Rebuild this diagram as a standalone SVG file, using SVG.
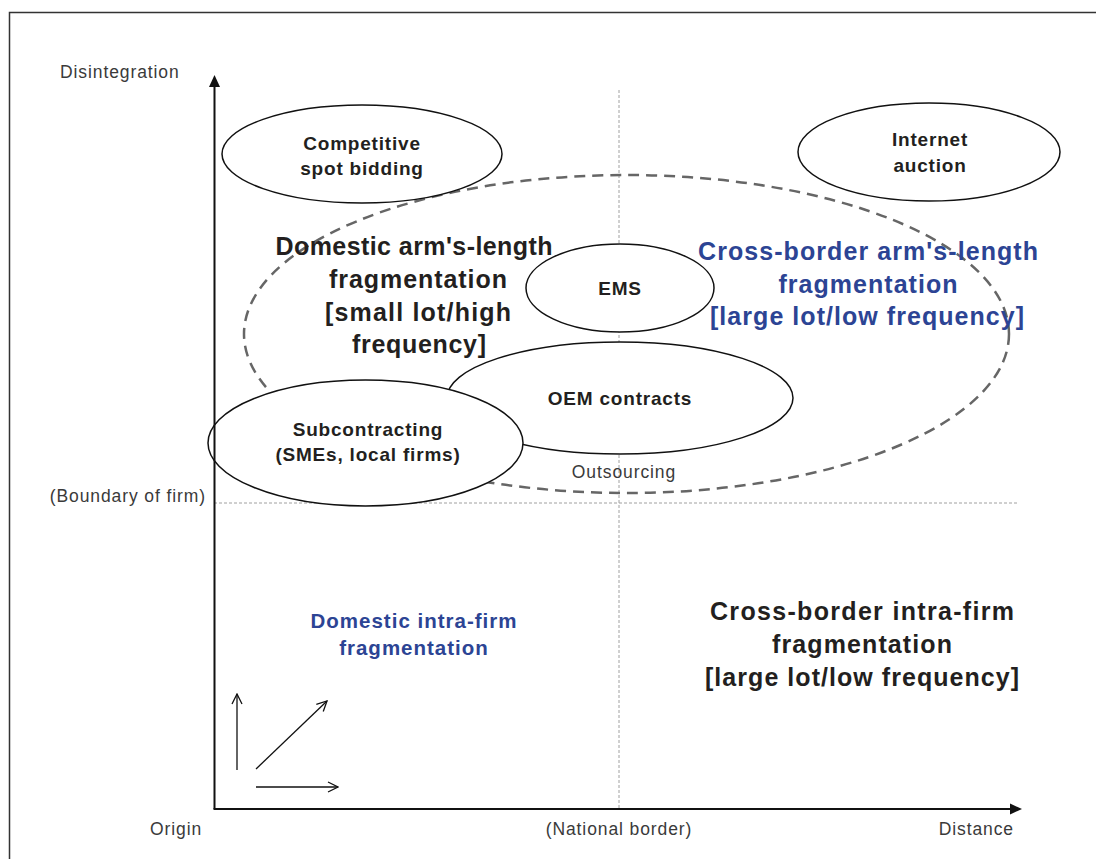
<svg xmlns="http://www.w3.org/2000/svg" width="1096" height="859" viewBox="0 0 1096 859">
<defs>
<style>
.ax{font-family:"Liberation Sans",Arial,sans-serif;font-size:17.5px;fill:#3a3a3a;letter-spacing:0.9px}
.nd{font-family:"Liberation Sans",Arial,sans-serif;font-size:19px;font-weight:bold;fill:#231f20;letter-spacing:0.8px;text-anchor:middle}
.big{font-family:"Liberation Sans",Arial,sans-serif;font-size:25px;font-weight:bold;fill:#231f20;text-anchor:middle}
.mid{font-family:"Liberation Sans",Arial,sans-serif;font-size:20.5px;font-weight:bold;letter-spacing:1px;text-anchor:middle}
.blue{fill:#2c4494}
.el{fill:#fff;stroke:#111;stroke-width:1.5}
.guide{fill:none;stroke:#a0a0a0;stroke-width:1;stroke-dasharray:3 2}
.axis{fill:none;stroke:#111;stroke-width:2}
.thin{fill:none;stroke:#111;stroke-width:1.3}
</style>
<marker id="open" viewBox="0 0 12 12" refX="11" refY="6" markerWidth="12" markerHeight="12" markerUnits="userSpaceOnUse" orient="auto">
<path d="M1,1 L11,6 L1,11" fill="none" stroke="#111" stroke-width="1.3"/>
</marker>
</defs>
<rect width="1096" height="859" fill="#fff"/>
<rect x="9.5" y="12.5" width="1100" height="870" fill="none" stroke="#333" stroke-width="1.5"/>

<g id="guides">
<line class="guide" x1="619" y1="90" x2="619" y2="808"/>
<line class="guide" x1="214" y1="503" x2="1019" y2="503"/>
</g>

<g id="outsourcing">
<ellipse cx="626.5" cy="334" rx="382.5" ry="159" fill="none" stroke="#666" stroke-width="2.5" stroke-dasharray="11 7"/>
<text class="ax" x="624" y="478" text-anchor="middle">Outsourcing</text>
</g>

<g id="competitive">
<ellipse class="el" cx="362" cy="154" rx="140" ry="49"/>
<text class="nd" x="362" y="150">Competitive</text>
<text class="nd" x="362" y="175">spot bidding</text>
</g>

<g id="internet">
<ellipse class="el" cx="929" cy="152" rx="131" ry="49"/>
<text class="nd" x="930" y="146">Internet</text>
<text class="nd" x="930" y="172">auction</text>
</g>

<g id="ems">
<ellipse class="el" cx="620" cy="288" rx="94" ry="44"/>
<text class="nd" x="620" y="295">EMS</text>
</g>

<g id="oem">
<ellipse class="el" cx="620" cy="398" rx="173" ry="56"/>
<text class="nd" x="620" y="405">OEM contracts</text>
</g>

<g id="subcontracting">
<ellipse class="el" cx="365.5" cy="443" rx="157.5" ry="63"/>
<text class="nd" x="368" y="436">Subcontracting</text>
<text class="nd" x="368" y="461">(SMEs, local firms)</text>
</g>

<g id="domestic-arms-length">
<text class="big" x="414" y="255" textLength="277" lengthAdjust="spacing">Domestic arm's-length</text>
<text class="big" x="418" y="288" textLength="178" lengthAdjust="spacing">fragmentation</text>
<text class="big" x="418" y="321" textLength="186" lengthAdjust="spacing">[small lot/high</text>
<text class="big" x="419" y="353" textLength="134" lengthAdjust="spacing">frequency]</text>
</g>

<g id="cross-border-arms-length">
<text class="big blue" x="868" y="260" textLength="340" lengthAdjust="spacing">Cross-border arm's-length</text>
<text class="big blue" x="868" y="293" textLength="179" lengthAdjust="spacing">fragmentation</text>
<text class="big blue" x="867" y="325" textLength="314" lengthAdjust="spacing">[large lot/low frequency]</text>
</g>

<g id="domestic-intra-firm">
<text class="mid blue" x="414" y="628">Domestic intra-firm</text>
<text class="mid blue" x="414" y="655">fragmentation</text>
</g>

<g id="cross-border-intra-firm">
<text class="big" x="862" y="620" textLength="304" lengthAdjust="spacing">Cross-border intra-firm</text>
<text class="big" x="862" y="653" textLength="180" lengthAdjust="spacing">fragmentation</text>
<text class="big" x="862" y="686" textLength="314" lengthAdjust="spacing">[large lot/low frequency]</text>
</g>

<g id="axis-labels">
<text class="ax" x="60" y="78">Disintegration</text>
<text class="ax" x="206" y="502" text-anchor="end">(Boundary of firm)</text>
<text class="ax" x="150" y="835">Origin</text>
<text class="ax" x="619" y="835" text-anchor="middle">(National border)</text>
<text class="ax" x="1014" y="835" text-anchor="end">Distance</text>
</g>

<g id="connectors">
<line class="axis" x1="214.5" y1="809" x2="214.5" y2="86"/>
<path d="M214.5,75 L209,87 L220,87 Z" fill="#111"/>
<line class="axis" x1="213.5" y1="809" x2="1011" y2="809"/>
<path d="M1022,809 L1010,803.5 L1010,814.5 Z" fill="#111"/>
<line class="thin" x1="237" y1="770" x2="237" y2="694" marker-end="url(#open)"/>
<line class="thin" x1="256" y1="769" x2="327" y2="701" marker-end="url(#open)"/>
<line class="thin" x1="256" y1="787" x2="338" y2="787" marker-end="url(#open)"/>
</g>
</svg>
